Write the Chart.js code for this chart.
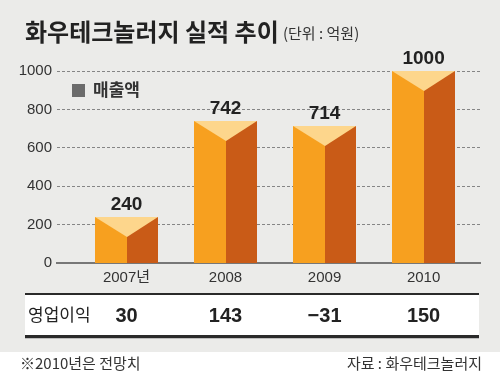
<!DOCTYPE html>
<html><head><meta charset="utf-8">
<script src="https://cdn.jsdelivr.net/npm/chart.js@4.4.0/dist/chart.umd.min.js"></script>
<style>html,body{margin:0;padding:0;background:#fff}#wrap{width:500px;height:375px}</style>
</head><body><div id="wrap"><canvas id="c" width="500" height="375"></canvas></div>
<script>
const categories = ['2007년', '2008', '2009', '2010'];
const sales = [240, 742, 714, 1000];
const profit = [30, 143, -31, 150];
const yTicks = [0, 200, 400, 600, 800, 1000];
const titleText = '화우테크놀러지 실적 추이';
const unitText = '(단위 : 억원)';
const legendText = '매출액';
const rowLabel = '영업이익';
const noteText = '※2010년은 전망치';
const sourceText = '자료 : 화우테크놀러지';

const KR = "'Noto Sans CJK KR', sans-serif";
const NUM = "'Liberation Sans', 'Noto Sans CJK KR', sans-serif";

function txt(ctx, s, x, y, font, color, align, base) {
  ctx.save();
  ctx.font = font; ctx.fillStyle = color;
  ctx.textAlign = align || 'left'; ctx.textBaseline = base || 'middle';
  ctx.fillText(s, x, y);
  ctx.restore();
}

const deco = {
  id: 'deco',
  beforeDraw(chart) {
    const ctx = chart.ctx;
    ctx.save();
    ctx.fillStyle = '#ebebe9'; ctx.fillRect(0, 0, 500, 352);
    ctx.fillStyle = '#ffffff'; ctx.fillRect(0, 352, 500, 23);
    ctx.restore();
  },
  afterDatasetsDraw(chart) {
    const ctx = chart.ctx;
    const meta = chart.getDatasetMeta(0);
    meta.data.forEach((el, i) => {
      const p = el.getProps(['x', 'y', 'base', 'width'], true);
      const l = Math.round(p.x - p.width / 2), r = Math.round(p.x + p.width / 2);
      const m = Math.round(p.x), t = Math.round(p.y), b = Math.round(p.base);
      ctx.save();
      ctx.fillStyle = '#f7a01f'; ctx.fillRect(l, t, m - l, b - t);
      ctx.fillStyle = '#c95b17'; ctx.fillRect(m, t, r - m, b - t);
      ctx.fillStyle = '#fdd68c';
      ctx.beginPath(); ctx.moveTo(l, t); ctx.lineTo(r, t); ctx.lineTo(m, t + 20); ctx.closePath(); ctx.fill();
      ctx.restore();
      txt(ctx, String(sales[i]), p.x, t - 7, "bold 19px " + NUM, '#222', 'center', 'alphabetic');
    });
  },
  afterDraw(chart) {
    const ctx = chart.ctx;
    const xs = chart.scales.x;
    txt(ctx, titleText, 25, 32, "bold 24px " + KR, '#222');
    txt(ctx, unitText, 283, 33, "15px " + KR, '#333');
    ctx.save(); ctx.fillStyle = '#6b6b6b'; ctx.fillRect(72, 84, 13, 13); ctx.restore();
    txt(ctx, legendText, 93, 90, "bold 17px " + KR, '#333');
    ctx.save();
    ctx.fillStyle = '#ffffff'; ctx.fillRect(25, 294, 454, 43);
    ctx.fillStyle = '#2a2a2a'; ctx.fillRect(25, 293, 454, 2);
    ctx.fillStyle = '#2a2a2a'; ctx.fillRect(25, 335, 454, 3);
    ctx.fillStyle = '#bdbdbd'; ctx.fillRect(25, 338, 454, 1);
    ctx.restore();
    txt(ctx, rowLabel, 28, 315, "17px " + KR, '#222');
    profit.forEach((v, i) => {
      const s = v < 0 ? '\u2212' + Math.abs(v) : String(v);
      txt(ctx, s, xs.getPixelForValue(i), 316, "bold 20px " + NUM, '#222', 'center');
    });
    txt(ctx, noteText, 20, 363, "15px " + KR, '#333');
    txt(ctx, sourceText, 482, 363, "15px " + KR, '#333', 'right');
  }
};

new Chart(document.getElementById('c'), {
  type: 'bar',
  data: {
    datasets: [{
      data: categories.map((c, i) => ({ x: i, y: sales[i] })),
      backgroundColor: 'rgba(0,0,0,0)',
      borderWidth: 0,
      barThickness: 63
    }]
  },
  options: {
    responsive: false,
    animation: false,
    devicePixelRatio: 1,
    layout: { padding: { top: 71, right: 20, left: 0, bottom: 0 } },
    plugins: { legend: { display: false }, tooltip: { enabled: false } },
    scales: {
      x: {
        type: 'linear',
        offset: false,
        min: -0.702, max: 3.57,
        afterBuildTicks(scale) { scale.ticks = categories.map((c, i) => ({ value: i })); },
        afterFit(scale) { scale.height = 112; },
        grid: { display: false, drawTicks: false, offset: false },
        border: { display: true, color: '#777', width: 2 },
        ticks: {
          autoSkip: false, maxRotation: 0, padding: 6,
          color: '#333', font: { family: NUM, size: 15 },
          callback: (v) => categories[v]
        }
      },
      y: {
        min: 0, max: 1000,
        afterBuildTicks(scale) { scale.ticks = yTicks.map(v => ({ value: v })); },
        afterFit(scale) { scale.width = 57; },
        grid: { color: '#858585', lineWidth: 1, drawTicks: false },
        border: { display: false, dash: [3, 2] },
        ticks: { padding: 5, color: '#333', font: { family: NUM, size: 15 }, callback: (v) => String(v) }
      }
    }
  },
  plugins: [deco]
});
</script>
</body></html>
